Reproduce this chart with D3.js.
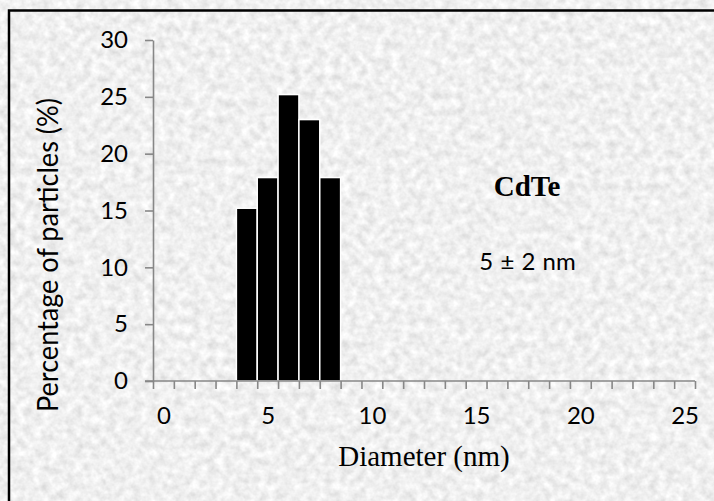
<!DOCTYPE html>
<html>
<head>
<meta charset="utf-8">
<script src="https://cdn.jsdelivr.net/npm/d3@7"></script>
<style>
  html, body { margin: 0; padding: 0; background: #dedede; }
  svg { display: block; }
</style>
</head>
<body>
<svg id="chart"></svg>
<script>
// size classes on the x axis (nm), one per category slot
var categories = [0, 1, 2, 3, 4, 5, 6, 7, 8, 9, 10, 11, 12, 13, 14, 15, 16, 17, 18, 19, 20, 21, 22, 23, 24, 25];
// measured histogram
var diameters = [4, 5, 6, 7, 8];
var percentages = [15.2, 17.9, 25.2, 23.0, 17.9];
var xTickLabels = [0, 5, 10, 15, 20, 25];
var yTicks = [0, 5, 10, 15, 20, 25, 30];

var sampleName = "CdTe";
var sizeNote = "5 \u00b1 2 nm";

var svgWidth = 714,
    svgHeight = 501;

var svg = d3.select('#chart')
    .attr('width', svgWidth)
    .attr('height', svgHeight);

// granite-like background
var defs = svg.append('defs');
var filter = defs.append('filter')
    .attr('id', 'granite')
    .attr('filterUnits', 'userSpaceOnUse')
    .attr('x', 0).attr('y', 0)
    .attr('width', svgWidth).attr('height', svgHeight);
filter.append('feTurbulence')
    .attr('type', 'fractalNoise')
    .attr('baseFrequency', 0.12)
    .attr('numOctaves', 3)
    .attr('seed', 7)
    .attr('result', 'noise');
filter.append('feColorMatrix')
    .attr('in', 'noise')
    .attr('type', 'matrix')
    .attr('values', '0.42 0 0 0 0.66  0.42 0 0 0 0.66  0.42 0 0 0 0.66  0 0 0 0 1');

svg.append('rect')
    .attr('width', svgWidth)
    .attr('height', svgHeight)
    .attr('fill', '#dedede')
    .attr('filter', 'url(#granite)');

// outer frame (right and bottom sides run off the picture)
svg.append('rect')
    .attr('x', 9)
    .attr('y', 10.5)
    .attr('width', 760)
    .attr('height', 560)
    .attr('fill', 'none')
    .attr('stroke', '#000')
    .attr('stroke-width', 2.5);

var plot = { left: 153, right: 695, top: 40, bottom: 381 };

// category axis: each class sits in a slot, ticks fall between slots
var x = d3.scaleLinear()
    .domain([categories[0] - 0.5, categories[categories.length - 1] + 0.5])
    .range([plot.left, plot.right]);
var y = d3.scaleLinear()
    .domain([0, 30])
    .range([plot.bottom, plot.top]);

var axisColor = '#878787';
var tickFont = 'Lato, "Open Sans", sans-serif';

// bars
svg.append('g')
    .selectAll('rect')
    .data(diameters)
    .join('rect')
    .attr('x', function (d) { return x(d - 0.5); })
    .attr('y', function (d, i) { return y(percentages[i]); })
    .attr('width', function (d) { return x(d + 0.5) - x(d - 0.5); })
    .attr('height', function (d, i) { return y(0) - y(percentages[i]); })
    .attr('fill', '#000')
    .attr('stroke', '#fff')
    .attr('stroke-width', 1.5);

// y axis
var yAxis = svg.append('g')
    .attr('transform', 'translate(' + plot.left + ',0)')
    .call(d3.axisLeft(y).tickValues(yTicks).tickSize(8).tickPadding(17).tickSizeOuter(0));
yAxis.select('.domain').attr('stroke', axisColor).attr('stroke-width', 1.6);
yAxis.selectAll('.tick line').attr('stroke', axisColor).attr('stroke-width', 1.6);
yAxis.selectAll('.tick text')
    .attr('fill', '#000')
    .style('font-family', tickFont)
    .style('font-size', '24px');

// x axis: tick marks between category slots
var boundaries = categories.map(function (c) { return c - 0.5; })
    .concat([categories[categories.length - 1] + 0.5]);
var xAxis = svg.append('g')
    .attr('transform', 'translate(0,' + plot.bottom + ')')
    .call(d3.axisBottom(x).tickValues(boundaries).tickSize(8).tickFormat('').tickSizeOuter(0));
xAxis.select('.domain')
    .attr('d', 'M' + (plot.left - 8) + ',0H' + plot.right)
    .attr('stroke', axisColor).attr('stroke-width', 1.6);
xAxis.selectAll('.tick line').attr('stroke', axisColor).attr('stroke-width', 1.6);

// x labels centred in their slots
var xLabels = svg.append('g')
    .attr('transform', 'translate(0,' + plot.bottom + ')')
    .call(d3.axisBottom(x).tickValues(xTickLabels).tickSize(0));
xLabels.select('.domain').remove();
xLabels.selectAll('.tick text')
    .attr('y', 43)
    .attr('dy', 0)
    .attr('fill', '#000')
    .style('font-family', tickFont)
    .style('font-size', '24px');

// axis titles
svg.append('text')
    .attr('transform', 'translate(58,255) rotate(-90)')
    .attr('text-anchor', 'middle')
    .attr('textLength', 314)
    .attr('lengthAdjust', 'spacingAndGlyphs')
    .style('font-family', tickFont)
    .style('font-size', '28px')
    .attr('fill', '#000')
    .text('Percentage of particles (%)');

svg.append('text')
    .attr('x', 424)
    .attr('y', 466)
    .attr('text-anchor', 'middle')
    .style('font-family', '"Liberation Serif", "Times New Roman", serif')
    .style('font-size', '29px')
    .attr('fill', '#000')
    .text('Diameter (nm)');

// annotations
svg.append('text')
    .attr('x', 527)
    .attr('y', 196)
    .attr('text-anchor', 'middle')
    .style('font-family', '"Liberation Serif", "Times New Roman", serif')
    .style('font-size', '29px')
    .style('font-weight', 'bold')
    .attr('fill', '#000')
    .text(sampleName);

svg.append('text')
    .attr('x', 527.5)
    .attr('y', 270)
    .attr('text-anchor', 'middle')
    .style('font-family', tickFont)
    .style('font-size', '24px')
    .style('word-spacing', '1px')
    .attr('fill', '#000')
    .text(sizeNote);
</script>
</body>
</html>
